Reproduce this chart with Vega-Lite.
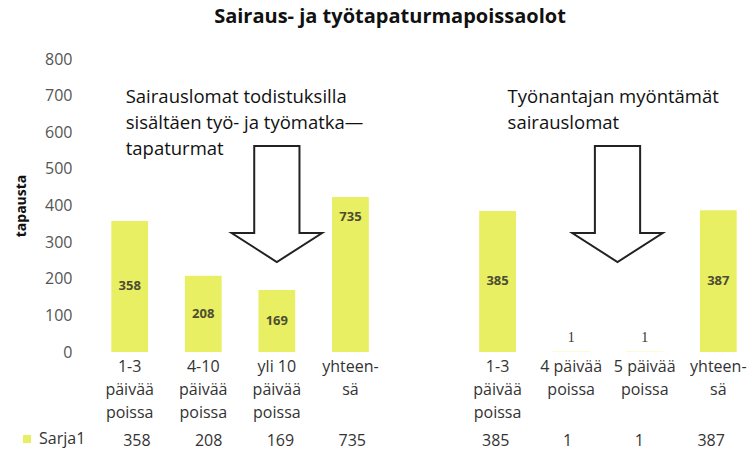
{
  "$schema": "https://vega.github.io/schema/vega-lite/v6.json",
  "background": "white",
  "padding": {"left": 14, "top": 7, "right": 0, "bottom": 0},
  "spacing": 11,
  "config": {
    "font": "Open Sans",
    "view": {"stroke": null},
    "axis": {"labelFont": "Open Sans", "titleFont": "Open Sans"},
    "axisY": {
      "labelOverlap": false,
      "tickCount": 9,
      "grid": false,
      "ticks": false,
      "domain": false,
      "labelPadding": 29,
      "labelFontSize": 16,
      "labelColor": "#555555",
      "titleFontSize": 14,
      "titleFontWeight": "bold",
      "titleColor": "#111111",
      "titlePadding": 16
    },
    "legend": {"labelFont": "Open Sans"}
  },
  "datasets": {
    "d": [
      {"key": "A:1-3|päivää|poissa", "series": "Sarja1", "value": 358},
      {"key": "A:4-10|päivää|poissa", "series": "Sarja1", "value": 208},
      {"key": "A:yli 10|päivää|poissa", "series": "Sarja1", "value": 169},
      {"key": "A:yhteen-|sä", "series": "Sarja1", "value": 735},
      {"key": "B:1-3|päivää|poissa", "series": "Sarja1", "value": 385},
      {"key": "B:4 päivää|poissa", "series": "Sarja1", "value": 1},
      {"key": "B:5 päivää|poissa", "series": "Sarja1", "value": 1},
      {"key": "B:yhteen-|sä", "series": "Sarja1", "value": 387}
    ]
  },
  "resolve": {"legend": {"fill": "independent"}},
  "vconcat": [
    {
      "width": 646,
      "height": 293,
      "title": {
        "text": "Sairaus- ja työtapaturmapoissaolot",
        "fontSize": 20,
        "fontWeight": "bold",
        "font": "Open Sans",
        "color": "#111111",
        "anchor": "middle",
        "dx": -34,
        "offset": 24
      },
      "data": {"name": "d"},
      "encoding": {
        "x": {
          "field": "key",
          "type": "nominal",
          "sort": null,
          "scale": {
            "domain": ["A:1-3|päivää|poissa", "A:4-10|päivää|poissa", "A:yli 10|päivää|poissa", "A:yhteen-|sä", "_:", "B:1-3|päivää|poissa", "B:4 päivää|poissa", "B:5 päivää|poissa", "B:yhteen-|sä"],
            "paddingInner": 0.5,
            "paddingOuter": 0.14
          },
          "axis": {
            "title": null,
            "labelExpr": "split(slice(datum.label, 2), '|')",
            "labelAngle": 0,
            "labelFontSize": 16,
            "labelColor": "#333333",
            "labelLineHeight": 23,
            "labelBaseline": "middle",
            "labelPadding": 14,
            "labelLimit": 0,
            "labelOverlap": false,
            "ticks": false,
            "domain": false,
            "grid": false,
            "encode": {
              "labels": {
                "update": {
                  "dy": {"signal": "(3 - length(split(datum.value, '|'))) * 11.5"}
                }
              }
            }
          }
        }
      },
      "layer": [
        {
          "layer": [
            {
              "mark": {"type": "bar", "color": "#e9ef62"},
              "encoding": {
                "y": {
                  "field": "value",
                  "type": "quantitative",
                  "scale": {"domain": [0, 800]},
                  "axis": {
                    "title": "tapausta",
                    "values": [0, 100, 200, 300, 400, 500, 600, 700, 800],
                    "labelOverlap": false
                  }
                }
              }
            },
            {
              "data": {"values": [{}]},
              "mark": {"type": "bar", "color": "white", "width": {"band": 1.3}},
              "encoding": {
                "x": {"datum": "A:yhteen-|sä"},
                "y": {"datum": 423},
                "y2": {"datum": 800}
              }
            },
            {
              "data": {"values": [{}]},
              "mark": {
                "type": "text",
                "text": ["Sairauslomat todistuksilla", "sisältäen työ- ja työmatka—", "tapaturmat"],
                "align": "left",
                "baseline": "top",
                "dx": -4,
                "fontSize": 18.5,
                "lineHeight": 26,
                "color": "#111111"
              },
              "encoding": {
                "x": {"datum": "A:1-3|päivää|poissa"},
                "y": {"datum": 722}
              }
            },
            {
              "data": {"values": [{}]},
              "mark": {
                "type": "text",
                "text": ["Työnantajan myöntämät", "sairauslomat"],
                "align": "left",
                "baseline": "top",
                "dx": 10,
                "fontSize": 18.5,
                "lineHeight": 26,
                "color": "#111111"
              },
              "encoding": {
                "x": {"datum": "B:1-3|päivää|poissa"},
                "y": {"datum": 722}
              }
            },
            {
              "data": {"values": [{}]},
              "mark": {
                "type": "point",
                "shape": "M-0.39,-1L0.39,-1L0.39,0.5L0.78,0.5L0,1L-0.78,0.5L-0.39,0.5Z",
                "size": 13456,
                "filled": true,
                "fill": "white",
                "stroke": "#222222",
                "strokeWidth": 2,
                "opacity": 1
              },
              "encoding": {
                "x": {"datum": "A:yli 10|päivää|poissa"},
                "y": {"datum": 404}
              }
            },
            {
              "data": {"values": [{}]},
              "mark": {
                "type": "point",
                "shape": "M-0.39,-1L0.39,-1L0.39,0.5L0.78,0.5L0,1L-0.78,0.5L-0.39,0.5Z",
                "size": 13456,
                "filled": true,
                "fill": "white",
                "stroke": "#222222",
                "strokeWidth": 2,
                "opacity": 1
              },
              "encoding": {
                "x": {"datum": "B:5 päivää|poissa", "bandPosition": -0.24},
                "y": {"datum": 404}
              }
            }
          ]
        },
        {
          "transform": [{"filter": "datum.value >= 10"}],
          "mark": {"type": "text", "fontSize": 13, "fontWeight": "bold", "color": "#4d4d33", "baseline": "middle"},
          "encoding": {
            "y": {"field": "value", "type": "quantitative", "scale": {"domain": [0, 1600]}, "axis": null},
            "text": {"field": "value", "type": "quantitative"}
          }
        },
        {
          "transform": [{"filter": "datum.value < 10"}],
          "mark": {"type": "text", "fontSize": 14, "font": "Liberation Serif", "color": "#333333", "baseline": "bottom", "dy": -7},
          "encoding": {
            "y": {"field": "value", "type": "quantitative", "scale": {"domain": [0, 800]}, "axis": null},
            "text": {"field": "value", "type": "quantitative"}
          }
        }
      ],
      "resolve": {"scale": {"y": "independent"}}
    },
    {
      "width": 646,
      "height": 20,
      "data": {"name": "d"},
      "encoding": {
        "x": {
          "field": "key",
          "type": "nominal",
          "sort": null,
          "scale": {
            "domain": ["A:1-3|päivää|poissa", "A:4-10|päivää|poissa", "A:yli 10|päivää|poissa", "A:yhteen-|sä", "_:", "B:1-3|päivää|poissa", "B:4 päivää|poissa", "B:5 päivää|poissa", "B:yhteen-|sä"],
            "paddingInner": 0.5,
            "paddingOuter": 0.14
          },
          "axis": null
        }
      },
      "layer": [
        {
          "mark": {"type": "text", "fontSize": 16, "baseline": "middle", "color": "#333333"},
          "encoding": {
            "text": {"field": "value", "type": "quantitative"}
          }
        },
        {
          "mark": {"type": "point", "shape": "square", "filled": true, "opacity": 0, "size": 64},
          "encoding": {
            "fill": {
              "field": "series",
              "type": "nominal",
              "scale": {"range": ["#e9ef62"]},
              "legend": {
                "orient": "left",
                "title": null,
                "symbolType": "square",
                "symbolSize": 64,
                "symbolOpacity": 1,
                "symbolStrokeWidth": 0,
                "labelFontSize": 16,
                "labelColor": "#333333",
                "offset": 15
              }
            }
          }
        }
      ]
    }
  ]
}
